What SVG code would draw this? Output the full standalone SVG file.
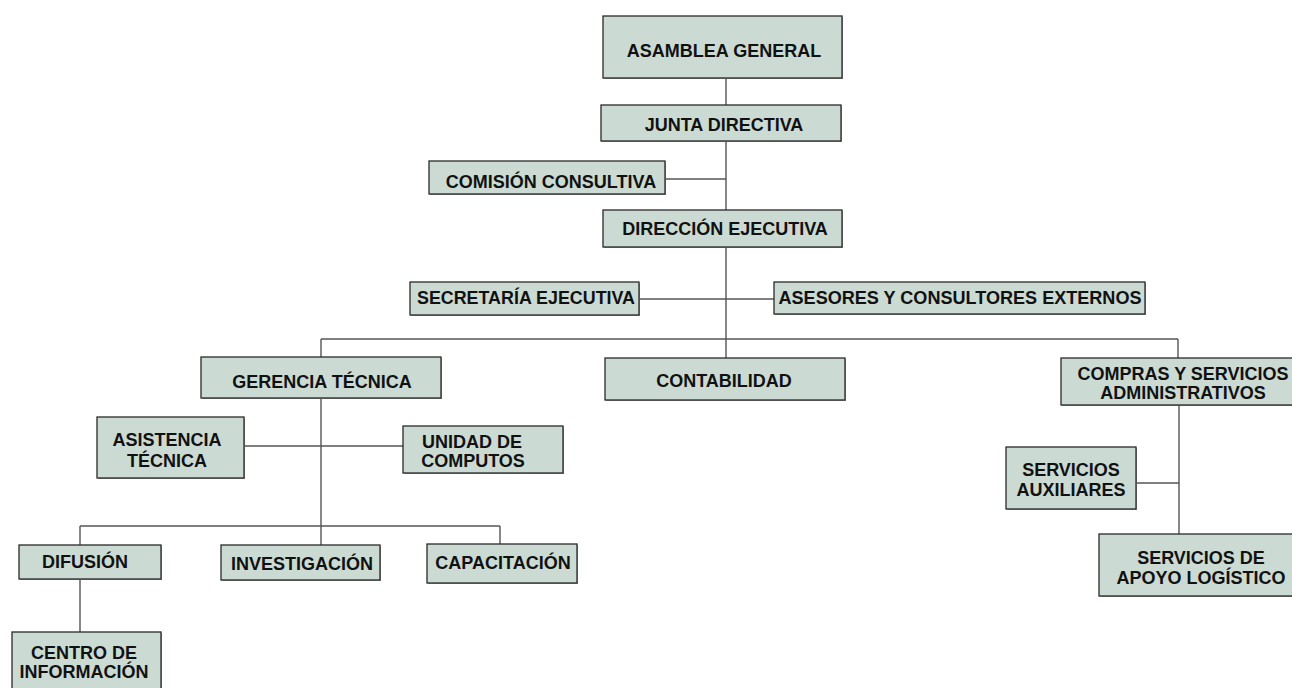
<svg xmlns="http://www.w3.org/2000/svg" width="1292" height="688" viewBox="0 0 1292 688">
<style>
.box{fill:#CBDBD3;stroke:#2a2a2a;stroke-width:1.3}
.sh{fill:#9a9a9a}
.t{font-family:"Liberation Sans",Arial,sans-serif;font-weight:bold;font-size:18px;fill:#111;text-anchor:middle}
.c{stroke:#555;stroke-width:1.4;fill:none}
</style>
<rect width="1292" height="688" fill="#fff"/>
<g id="connectors">
<line class="c" x1="726" y1="78" x2="726" y2="358"/>
<line class="c" x1="665" y1="179" x2="726" y2="179"/>
<line class="c" x1="639" y1="299" x2="774" y2="299"/>
<line class="c" x1="321" y1="339" x2="1178" y2="339"/>
<line class="c" x1="321" y1="339" x2="321" y2="357"/>
<line class="c" x1="1178" y1="339" x2="1178" y2="358"/>
<line class="c" x1="321" y1="398" x2="321" y2="545"/>
<line class="c" x1="244" y1="446" x2="403" y2="446"/>
<line class="c" x1="80" y1="526" x2="500" y2="526"/>
<line class="c" x1="80" y1="526" x2="80" y2="545"/>
<line class="c" x1="500" y1="526" x2="500" y2="544"/>
<line class="c" x1="80" y1="579" x2="80" y2="632"/>
<line class="c" x1="1179" y1="405" x2="1179" y2="534"/>
<line class="c" x1="1136" y1="483" x2="1179" y2="483"/>
</g>
<g id="asamblea">
<rect class="sh" x="604" y="17" width="239" height="62"/>
<rect class="box" x="603" y="16" width="239" height="62"/>
<text class="t" x="724" y="57">ASAMBLEA GENERAL</text>
</g>
<g id="junta">
<rect class="sh" x="602" y="106" width="240" height="36"/>
<rect class="box" x="601" y="105" width="240" height="36"/>
<text class="t" x="724" y="131">JUNTA DIRECTIVA</text>
</g>
<g id="comision">
<rect class="sh" x="430" y="162" width="236" height="33"/>
<rect class="box" x="429" y="161" width="236" height="33"/>
<text class="t" x="551" y="188">COMISIÓN CONSULTIVA</text>
</g>
<g id="direccion">
<rect class="sh" x="604" y="211" width="239" height="37"/>
<rect class="box" x="603" y="210" width="239" height="37"/>
<text class="t" x="725" y="235">DIRECCIÓN EJECUTIVA</text>
</g>
<g id="secretaria">
<rect class="sh" x="411" y="283" width="229" height="33"/>
<rect class="box" x="410" y="282" width="229" height="33"/>
<text class="t" x="526" y="304" textLength="218" lengthAdjust="spacingAndGlyphs">SECRETARÍA EJECUTIVA</text>
</g>
<g id="asesores">
<rect class="sh" x="775" y="283" width="371" height="32"/>
<rect class="box" x="774" y="282" width="371" height="32"/>
<text class="t" x="960" y="304" textLength="363" lengthAdjust="spacingAndGlyphs">ASESORES Y CONSULTORES EXTERNOS</text>
</g>
<g id="gerencia">
<rect class="sh" x="202" y="358" width="240" height="41"/>
<rect class="box" x="201" y="357" width="240" height="41"/>
<text class="t" x="322" y="388">GERENCIA TÉCNICA</text>
</g>
<g id="contabilidad">
<rect class="sh" x="606" y="359" width="240" height="42"/>
<rect class="box" x="605" y="358" width="240" height="42"/>
<text class="t" x="724" y="387">CONTABILIDAD</text>
</g>
<g id="compras">
<rect class="sh" x="1062" y="359" width="242" height="47"/>
<rect class="box" x="1061" y="358" width="242" height="47"/>
<text class="t" x="1183" y="380">COMPRAS Y SERVICIOS</text>
<text class="t" x="1183" y="399">ADMINISTRATIVOS</text>
</g>
<g id="asistencia">
<rect class="sh" x="98" y="418" width="147" height="61"/>
<rect class="box" x="97" y="417" width="147" height="61"/>
<text class="t" x="167" y="446">ASISTENCIA</text>
<text class="t" x="167" y="467">TÉCNICA</text>
</g>
<g id="unidad">
<rect class="sh" x="404" y="427" width="160" height="47"/>
<rect class="box" x="403" y="426" width="160" height="47"/>
<text class="t" x="472" y="448">UNIDAD DE</text>
<text class="t" x="473" y="467">COMPUTOS</text>
</g>
<g id="difusion">
<rect class="sh" x="20" y="546" width="142" height="34"/>
<rect class="box" x="19" y="545" width="142" height="34"/>
<text class="t" x="85" y="568">DIFUSIÓN</text>
</g>
<g id="investigacion">
<rect class="sh" x="222" y="546" width="159" height="35"/>
<rect class="box" x="221" y="545" width="159" height="35"/>
<text class="t" x="302" y="570">INVESTIGACIÓN</text>
</g>
<g id="capacitacion">
<rect class="sh" x="428" y="545" width="150" height="39"/>
<rect class="box" x="427" y="544" width="150" height="39"/>
<text class="t" x="503" y="569">CAPACITACIÓN</text>
</g>
<g id="centro">
<rect class="sh" x="13" y="633" width="149" height="60"/>
<rect class="box" x="12" y="632" width="149" height="60"/>
<text class="t" x="84" y="659">CENTRO DE</text>
<text class="t" x="84" y="678">INFORMACIÓN</text>
</g>
<g id="auxiliares">
<rect class="sh" x="1007" y="448" width="130" height="62"/>
<rect class="box" x="1006" y="447" width="130" height="62"/>
<text class="t" x="1071" y="476">SERVICIOS</text>
<text class="t" x="1071" y="496">AUXILIARES</text>
</g>
<g id="apoyo">
<rect class="sh" x="1100" y="535" width="204" height="62"/>
<rect class="box" x="1099" y="534" width="204" height="62"/>
<text class="t" x="1201" y="564">SERVICIOS DE</text>
<text class="t" x="1201" y="584">APOYO LOGÍSTICO</text>
</g>
</svg>
